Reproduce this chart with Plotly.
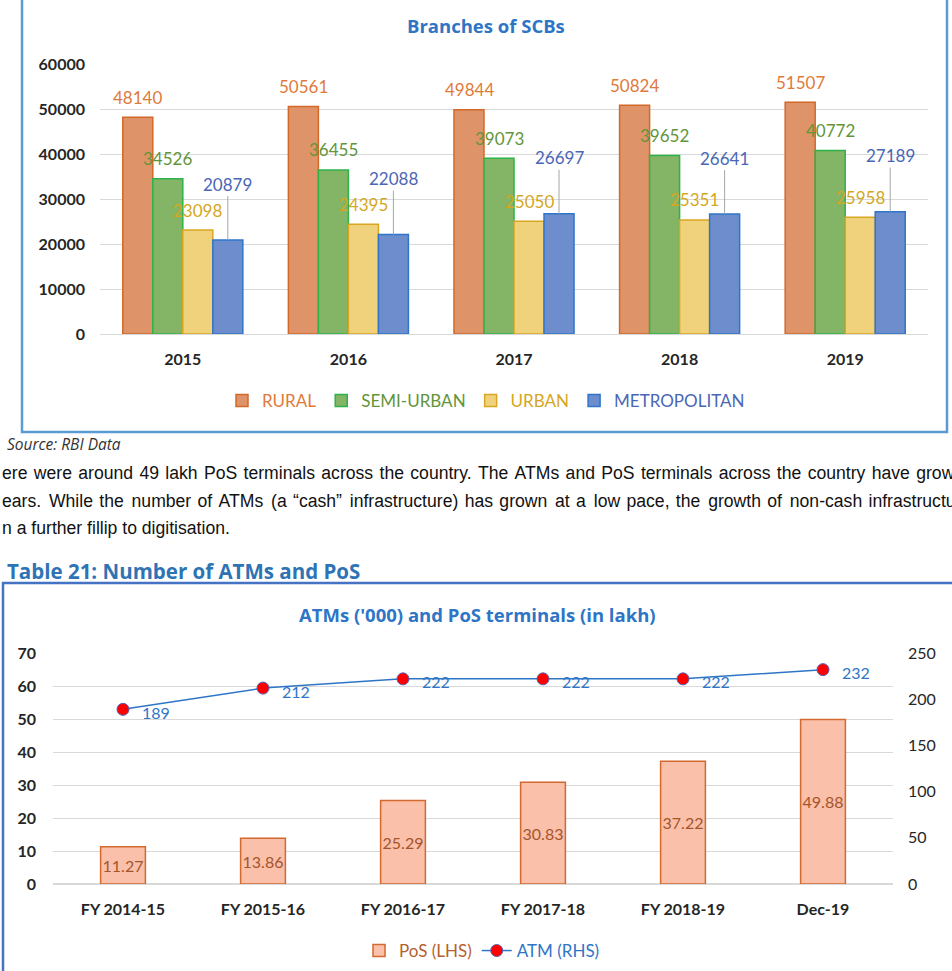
import plotly.graph_objects as go

# ---------------- data ----------------
years = ["2015", "2016", "2017", "2018", "2019"]
rural = [48140, 50561, 49844, 50824, 51507]
semi_urban = [34526, 36455, 39073, 39652, 40772]
urban = [23098, 24395, 25050, 25351, 25958]
metropolitan = [20879, 22088, 26697, 26641, 27189]

periods = ["FY 2014-15", "FY 2015-16", "FY 2016-17", "FY 2017-18", "FY 2018-19", "Dec-19"]
pos_lakh = [11.27, 13.86, 25.29, 30.83, 37.22, 49.88]
atm_thousand = [189, 212, 222, 222, 222, 232]

para_lines = [
    "ere were around 49 lakh PoS terminals across the country. The ATMs and PoS terminals across the country have grow",
    "ears. While the number of ATMs (a \u201ccash\u201d infrastructure) has grown at a low pace, the growth of non-cash infrastructure",
    "n a further fillip to digitisation.",
]

# ---------------- helpers ----------------
W, H = 952, 971
def px(x):
    return x / W
def py(y):
    return 1 - y / H

def justify(line, fillers):
    # emulate the justified paragraph: widen the word gaps with thin unicode spaces
    words = line.split(" ")
    out = words[0]
    for k, w in enumerate(words[1:]):
        out += " " + fillers[k % len(fillers)] + w
    return out

FONT = "Lato"
TFONT = "Open Sans"
BLUE_T = "#2E75C6"

series = [
    ("RURAL", rural, "#DE9468", "#D2692A", "#E07A3A"),
    ("SEMI-URBAN", semi_urban, "#84B466", "#2DB34A", "#62953A"),
    ("URBAN", urban, "#F1D27C", "#D9A621", "#D4A722"),
    ("METROPOLITAN", metropolitan, "#6E8DCD", "#2F75C9", "#4A67B5"),
]

fig = go.Figure()
annotations = []

BAR_PX = 30  # pixel width of a grouped bar (for label offsets)
for j, (name, vals, fill, edge, tcol) in enumerate(series):
    fig.add_trace(go.Bar(
        x=years, y=vals, name=f"<span style='color:{tcol}'>{name}</span>",
        marker=dict(color=fill, line=dict(color=edge, width=1.5)),
        xaxis="x", yaxis="y", legend="legend", hoverinfo="skip",
    ))
    for i, v in enumerate(vals):
        if name == "METROPOLITAN":
            annotations.append(dict(
                x=i, y=v, xref="x", yref="y", text=str(v),
                showarrow=True, ax=0, ay=-56, arrowhead=0, arrowwidth=1,
                arrowcolor="#A6A6A6", standoff=0, xshift=(j - 1.5) * BAR_PX,
                xanchor="center", yanchor="middle",
                font=dict(family=FONT, size=17, color=tcol),
            ))
        else:
            annotations.append(dict(
                x=i, y=v, xref="x", yref="y", text=str(v),
                showarrow=False, xshift=(j - 1.5) * BAR_PX, yshift=20,
                xanchor="center", yanchor="middle",
                font=dict(family=FONT, size=17, color=tcol),
            ))

# bottom chart
fig.add_trace(go.Bar(
    x=periods, y=pos_lakh, width=0.32,
    name="<span style='color:#B5602E'>PoS (LHS)</span>",
    marker=dict(color="#FBC0AA", line=dict(color="#D2692E", width=1.5)),
    text=[f"{v:.2f}" for v in pos_lakh], textposition="inside",
    insidetextanchor="middle", textangle=0, constraintext="none",
    textfont=dict(family=FONT, size=16, color="#A4552C"),
    xaxis="x2", yaxis="y2", legend="legend2", hoverinfo="skip",
))
fig.add_trace(go.Scatter(
    x=periods, y=atm_thousand, mode="lines+markers",
    name=f"<span style='color:{BLUE_T}'>ATM (RHS)</span>",
    line=dict(color=BLUE_T, width=1.5),
    marker=dict(color="#FF0000", size=12, line=dict(color="#5060B8", width=1)),
    xaxis="x2", yaxis="y3", legend="legend2", hoverinfo="skip",
))
for i, v in enumerate(atm_thousand):
    annotations.append(dict(
        x=i, y=v, xref="x2", yref="y3", text=str(v),
        showarrow=False, xshift=33, yshift=-3, xanchor="center", yanchor="middle",
        font=dict(family=FONT, size=16, color=BLUE_T),
    ))

# titles & text
def ptext(x, y, text, size, color, anchor="center", family=FONT):
    return dict(x=px(x), y=py(y), xref="paper", yref="paper", text=text,
                showarrow=False, xanchor=anchor, yanchor="middle", align="left",
                font=dict(family=family, size=size, color=color))

annotations += [
    ptext(486, 25, "<b>Branches of SCBs</b>", 18.5, BLUE_T, family=TFONT),
    ptext(5, 444, "<i>Source: RBI Data</i>", 15.5, "#333333", "left", TFONT),
    ptext(5, 571, "<b>Table 21: Number of ATMs and PoS</b>", 20.5, "#2E74B5", "left", TFONT),
    ptext(477, 614, "<b>ATMs ('000) and PoS terminals (in lakh)</b>", 18.5, BLUE_T, family=TFONT),
]
fillers = [["\u200a"],
           ["\u2006", "\u200a", "\u2006", "\u200a", "\u200a"],
           [""]]
for k, line in enumerate(para_lines):
    annotations.append(ptext(0, 473 + k * 27.5, justify(line, fillers[k]), 17.6,
                             "#111111", "left", "Liberation Sans"))

shapes = [
    dict(type="rect", xref="paper", yref="paper", x0=px(22), x1=px(947), y0=py(432), y1=1.02,
         line=dict(color="#5B9BD5", width=2.5), fillcolor="rgba(0,0,0,0)"),
    dict(type="rect", xref="paper", yref="paper", x0=px(3), x1=1.02, y0=-0.02, y1=py(583),
         line=dict(color="#4472C4", width=2.5), fillcolor="rgba(0,0,0,0)"),
]

tick_bold = dict(family=FONT, size=16, color="#262626", weight="bold")

fig.update_layout(
    width=W, height=H, margin=dict(l=0, r=0, t=0, b=0, pad=0),
    paper_bgcolor="white", plot_bgcolor="white",
    font=dict(family=FONT),
    barmode="group", bargap=0.275, bargroupgap=0,
    annotations=annotations, shapes=shapes,
    xaxis=dict(domain=[px(100), px(928)], anchor="y", type="category",
               range=[-0.5, len(years) - 0.5], showgrid=False,
               showline=False, automargin=False,
               ticks="", tickfont=tick_bold, ticklabelstandoff=14, fixedrange=True),
    yaxis=dict(domain=[py(334), py(64)], anchor="x", range=[0, 60000], dtick=10000,
               tickformat="d", showgrid=True, gridcolor="#D9D9D9", gridwidth=1,
               zeroline=True, zerolinecolor="#D9D9D9", zerolinewidth=1, automargin=False,
               ticks="", tickfont=tick_bold, ticklabelstandoff=14, fixedrange=True),
    xaxis2=dict(domain=[px(53), px(893)], anchor="y2", type="category",
                range=[-0.5, len(periods) - 0.5], showgrid=False,
                showline=False, automargin=False,
                ticks="", tickfont=tick_bold, ticklabelstandoff=14, fixedrange=True),
    yaxis2=dict(domain=[py(884), py(653)], anchor="x2", range=[0, 70], dtick=10,
                showgrid=True, gridcolor="#D9D9D9", zeroline=True, zerolinecolor="#D9D9D9",
                automargin=False,
                ticks="", tickfont=tick_bold, ticklabelstandoff=16, fixedrange=True),
    yaxis3=dict(overlaying="y2", anchor="x2", side="right", range=[0, 250], dtick=50,
                showgrid=False, zeroline=False, ticks="", automargin=False,
                tickfont=dict(family=FONT, size=16, color="#262626"),
                ticklabelstandoff=14, fixedrange=True),
    legend=dict(orientation="h", x=px(486), xanchor="center", y=py(401), yanchor="middle",
                font=dict(family=FONT, size=17), bgcolor="rgba(0,0,0,0)", itemwidth=30,
                traceorder="normal"),
    legend2=dict(orientation="h", x=px(482), xanchor="center", y=py(951), yanchor="middle",
                 font=dict(family=FONT, size=17), bgcolor="rgba(0,0,0,0)", itemwidth=30,
                 traceorder="normal"),
)

fig.write_html("out.html", config={"displayModeBar": False},
               post_script="document.body.style.margin='0';document.body.style.overflow='hidden';")
